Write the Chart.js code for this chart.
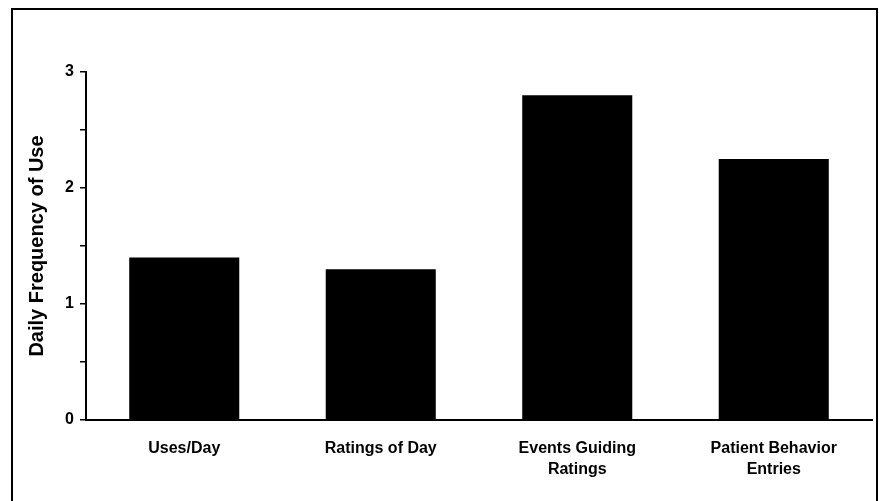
<!DOCTYPE html>
<html>
<head>
<meta charset="utf-8">
<script src="https://cdn.jsdelivr.net/npm/chart.js@4"></script>
<style>
  html, body { margin: 0; padding: 0; background: #fff; }
  #wrap { width: 879px; height: 501px; }
</style>
</head>
<body>
<div id="wrap"><canvas id="chart" width="879" height="501"></canvas></div>
<script>
const categories = ['Uses/Day', 'Ratings of Day', ['Events Guiding', 'Ratings'], ['Patient Behavior', 'Entries']]
const frequency = [1.4, 1.3, 2.8, 2.25]
const yTickLabels = ['0', '1', '2', '3']

const framePlugin = {
    id: 'frame',
    afterDraw(chart) {
        const ctx = chart.ctx
        ctx.save()
        ctx.strokeStyle = '#000'
        ctx.lineWidth = 2
        ctx.strokeRect(12, 9, 865, 600)
        ctx.restore()
    }
}

const ctx = document.getElementById('chart')

new Chart(ctx, {
    type: 'bar',
    data: {
        labels: categories,
        datasets: [{
            label: 'Daily Frequency of Use',
            data: frequency,
            backgroundColor: '#000',
            borderWidth: 0,
            barPercentage: 0.56,
            categoryPercentage: 1
        }]
    },
    options: {
        responsive: false,
        animation: false,
        layout: { padding: { top: 72, right: 7, bottom: 0, left: 0 } },
        plugins: {
            legend: { display: false },
            tooltip: { enabled: false }
        },
        scales: {
            x: {
                grid: { display: false, drawTicks: false },
                border: { display: true, color: '#000', width: 2 },
                ticks: {
                    color: '#000',
                    padding: 18,
                    maxRotation: 0,
                    autoSkip: false,
                    font: { family: 'Liberation Sans, Arial', size: 16, weight: 'bold', lineHeight: 1.3 }
                },
                afterFit(scale) { scale.height = 81 }
            },
            y: {
                min: 0,
                max: 3,
                grid: { drawOnChartArea: false, drawTicks: true, tickLength: 6, color: '#000', lineWidth: 1.5 },
                border: { display: true, color: '#000', width: 2 },
                ticks: {
                    stepSize: 0.5,
                    color: '#000',
                    padding: 6,
                    font: { family: 'Liberation Sans, Arial', size: 16, weight: 'bold' },
                    callback: (v) => Number.isInteger(v) ? yTickLabels[v] : ''
                },
                title: {
                    display: true,
                    text: 'Daily Frequency of Use',
                    color: '#000',
                    padding: { top: 25, bottom: 0 },
                    font: { family: 'Liberation Sans, Arial', size: 20, weight: 'bold', lineHeight: 1.2 }
                },
                afterFit(scale) { scale.width = 86 }
            }
        }
    },
    plugins: [framePlugin]
})
</script>
</body>
</html>
